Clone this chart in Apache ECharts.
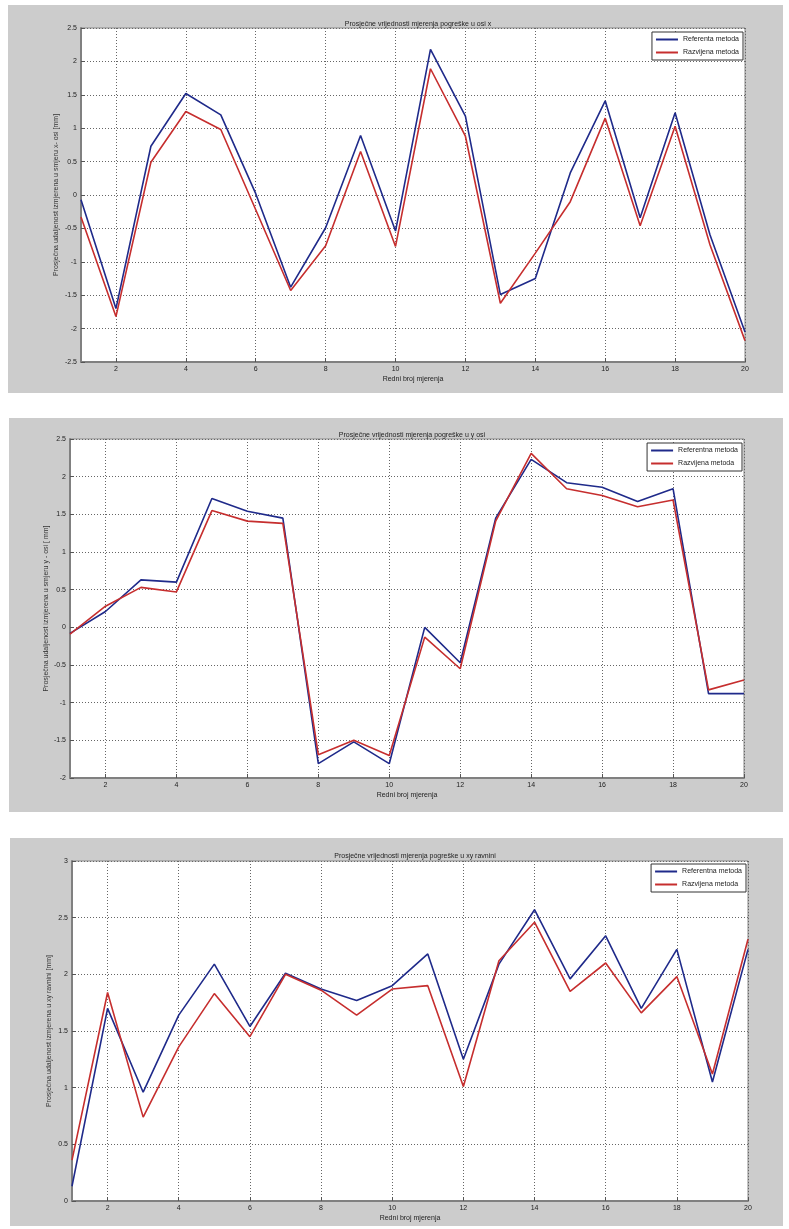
<!DOCTYPE html>
<html>
<head>
<meta charset="utf-8">
<script src="https://cdn.jsdelivr.net/npm/echarts@6/dist/echarts.min.js"></script>
<style>
html,body{margin:0;padding:0;background:#fff;}
#c{width:789px;height:1229px;}
</style>
</head>
<body>
<div id="c"></div>
<script>
const categories = ['1','2','3','4','5','6','7','8','9','10','11','12','13','14','15','16','17','18','19','20'];

const titleX = 'Prosječne vrijednosti mjerenja pogreške u osi x';
const titleY = 'Prosječne vrijednosti mjerenja pogreške u y osi';
const titleXY = 'Prosječne vrijednosti mjerenja pogreške u xy ravnini';
const xAxisName = 'Redni broj mjerenja';
const yNameX = 'Prosječna udaljenost izmjerena u smjeru x- osi [mm]';
const yNameY = 'Prosječna udaljenost izmjerena u smjeru y - osi [ mm]';
const yNameXY = 'Prosječna udaljenost izmjerena u xy ravnini [mm]';
const legendX = ['Referenta metoda', 'Razvijena metoda'];
const legendY = ['Referentna metoda', 'Razvijena metoda'];
const legendXY = ['Referentna metoda', 'Razvijena metoda'];

const refX = [-0.07,-1.70,0.73,1.52,1.20,0.02,-1.38,-0.49,0.89,-0.54,2.18,1.18,-1.49,-1.25,0.33,1.41,-0.34,1.23,-0.60,-2.05];
const devX = [-0.33,-1.82,0.49,1.25,0.98,-0.22,-1.43,-0.76,0.65,-0.77,1.89,0.88,-1.62,-0.87,-0.10,1.15,-0.46,1.03,-0.75,-2.18];

const refY = [-0.08,0.21,0.63,0.60,1.71,1.54,1.45,-1.81,-1.52,-1.81,0.00,-0.47,1.45,2.23,1.92,1.86,1.67,1.84,-0.88,-0.88];
const devY = [-0.09,0.28,0.53,0.47,1.55,1.41,1.38,-1.69,-1.50,-1.70,-0.13,-0.55,1.41,2.31,1.84,1.75,1.60,1.69,-0.83,-0.70];

const refXY = [0.13,1.70,0.96,1.64,2.09,1.54,2.01,1.87,1.77,1.90,2.18,1.25,2.09,2.57,1.96,2.34,1.70,2.22,1.05,2.22];
const devXY = [0.36,1.84,0.74,1.36,1.83,1.45,2.00,1.86,1.64,1.87,1.90,1.01,2.12,2.46,1.85,2.10,1.66,1.98,1.12,2.31];

const yRanges = [[-2.5, 2.5], [-2, 2.5], [0, 3]];

const FONT = '"Liberation Sans Narrow","Liberation Sans",Arial,sans-serif';
const BLUE = '#1f2a8a';
const RED = '#c62e2e';

const panels = [
  {bg:[8,5,775,388], grid:{left:81, top:28, width:664, height:334}, title:titleX, yName:yNameX, legend:legendX, ref:refX, dev:devX, yr:yRanges[0], titleY:16, xNameGap:14, yNameGap:21, legTop:32},
  {bg:[9,418,774,394], grid:{left:70, top:439, width:674, height:339}, title:titleY, yName:yNameY, legend:legendY, ref:refY, dev:devY, yr:yRanges[1], titleY:427, xNameGap:14, yNameGap:20, legTop:443},
  {bg:[10,838,773,388], grid:{left:72, top:861, width:676, height:340}, title:titleXY, yName:yNameXY, legend:legendXY, ref:refXY, dev:devXY, yr:yRanges[2], titleY:848, xNameGap:14, yNameGap:19, legTop:864}
];

const option = {
  animation:false,
  backgroundColor:'#ffffff',
  textStyle:{fontFamily:FONT},
  graphic: panels.map(p => ({type:'rect', z:-10, silent:true, shape:{x:p.bg[0], y:p.bg[1], width:p.bg[2], height:p.bg[3]}, style:{fill:'#cccccc'}})),
  title: panels.map(p => ({text:p.title, left:p.grid.left + p.grid.width/2, top:p.titleY, textAlign:'center', textStyle:{fontSize:7, fontWeight:'normal', color:'#222', fontFamily:FONT}})),
  legend: panels.map((p,i) => ({
    data:[p.legend[0], p.legend[1]],
    orient:'vertical',
    right: 789 - (p.grid.left + p.grid.width) + 2,
    top: p.legTop,
    icon:'rect', itemWidth:22, itemHeight:2, itemGap:6,
    padding:[4,4,4,4],
    backgroundColor:'#ffffff', borderColor:'#333', borderWidth:1,
    textStyle:{fontSize:7, color:'#222', fontFamily:FONT},
    selectedMode:false
  })),
  grid: panels.map(p => ({left:p.grid.left, top:p.grid.top, width:p.grid.width, height:p.grid.height, show:true, backgroundColor:'#ffffff', borderColor:'#888', borderWidth:1})),
  xAxis: panels.map((p,i) => ({
    type:'category', gridIndex:i, data:categories, boundaryGap:false,
    name:xAxisName, nameLocation:'middle', nameGap:p.xNameGap,
    nameTextStyle:{fontSize:7, color:'#222', fontFamily:FONT},
    axisLine:{onZero:false, lineStyle:{color:'#808080', width:2}},
    axisTick:{inside:true, length:4, interval:(idx)=>idx%2===1, lineStyle:{color:'#555'}},
    axisLabel:{fontSize:7, color:'#222', margin:4, interval:(idx)=>idx%2===1, fontFamily:FONT},
    splitLine:{show:true, interval:(idx)=>idx%2===1, lineStyle:{color:'#666', type:[1,2], width:1}}
  })),
  yAxis: panels.map((p,i) => ({
    type:'value', gridIndex:i, min:p.yr[0], max:p.yr[1], interval:0.5,
    name:p.yName, nameLocation:'middle', nameGap:p.yNameGap, nameRotate:90, nameMoveOverlap:false,
    nameTextStyle:{fontSize:7, color:'#333', fontFamily:FONT},
    axisLine:{show:true, onZero:false, lineStyle:{color:'#808080', width:2}},
    axisTick:{show:true, inside:true, length:4, lineStyle:{color:'#555'}},
    axisLabel:{fontSize:7, color:'#222', margin:4, fontFamily:FONT},
    splitLine:{show:true, lineStyle:{color:'#666', type:[1,2], width:1}}
  })),
  series: panels.flatMap((p,i) => ([
    {name:p.legend[0], type:'line', xAxisIndex:i, yAxisIndex:i, data:p.ref, symbol:'none', lineStyle:{color:BLUE, width:1.6}, itemStyle:{color:BLUE}, z:3},
    {name:p.legend[1], type:'line', xAxisIndex:i, yAxisIndex:i, data:p.dev, symbol:'none', lineStyle:{color:RED, width:1.6}, itemStyle:{color:RED}, z:4}
  ]))
};

const chart = echarts.init(document.getElementById('c'), null, {renderer:'canvas'});
chart.setOption(option);
</script>
</body>
</html>
